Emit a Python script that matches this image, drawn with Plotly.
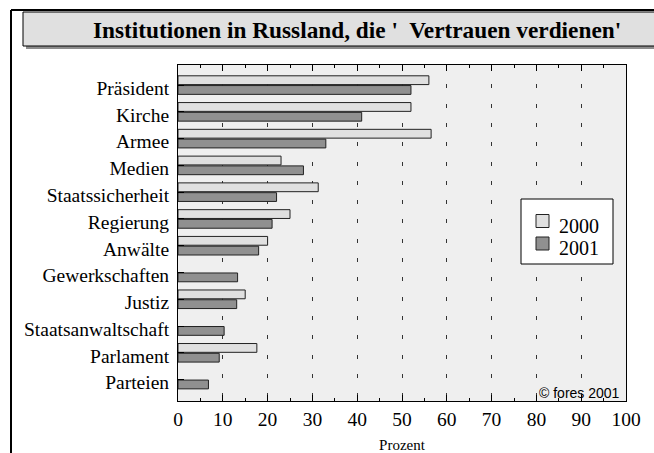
import plotly.graph_objects as go

categories = ["Präsident", "Kirche", "Armee", "Medien", "Staatssicherheit", "Regierung",
              "Anwälte", "Gewerkschaften", "Justiz", "Staatsanwaltschaft", "Parlament", "Parteien"]
values_2000 = [56, 52, 56.5, 23, 31.3, 25, 20, None, 15, None, 17.6, None]
values_2001 = [52, 41, 33, 28, 22, 21, 18, 13.3, 13.1, 10.3, 9.2, 6.8]
x_ticks = [0, 10, 20, 30, 40, 50, 60, 70, 80, 90, 100]
series_names = ["2000", "2001"]
series_colors = ["#e0e0e0", "#909090"]

positions = list(range(len(categories)))

W, H = 654, 453
L, R, T, B = 178, 626, 65, 401


def px_x(p):
    return (p - L) / (R - L)


def px_y(p):
    return (B - p) / (B - T)


SERIF = "Liberation Serif, Times New Roman, serif"

fig = go.Figure()
for name, vals, col in zip(series_names, [values_2000, values_2001], series_colors):
    fig.add_trace(go.Bar(y=positions, x=vals, orientation="h", name=name, showlegend=False,
                         marker=dict(color=col, line=dict(color="#222222", width=1))))

shapes = [
    # title box shadow
    dict(type="rect", xref="paper", yref="paper", x0=px_x(26), x1=px_x(670), y0=px_y(49), y1=px_y(15),
         fillcolor="#8c8c8c", line=dict(width=0), layer="above"),
    # title box
    dict(type="rect", xref="paper", yref="paper", x0=px_x(23), x1=px_x(668), y0=px_y(46), y1=px_y(12),
         fillcolor="#e0e0e0", line=dict(color="#000000", width=1), layer="above"),
    # outer frame lines
    dict(type="line", xref="paper", yref="paper", x0=px_x(11), x1=px_x(11), y0=px_y(10), y1=px_y(470),
         line=dict(color="#000000", width=2), layer="above"),
    dict(type="line", xref="paper", yref="paper", x0=px_x(11), x1=px_x(670), y0=px_y(10), y1=px_y(10),
         line=dict(color="#000000", width=2), layer="above"),
    # legend box
    dict(type="rect", xref="paper", yref="paper", x0=px_x(521), x1=px_x(613), y0=px_y(264), y1=px_y(199),
         fillcolor="#ffffff", line=dict(color="#000000", width=1), layer="above"),
]

annotations = [
    dict(text="<b>Institutionen in Russland, die '  Vertrauen verdienen'</b>", xref="paper", yref="paper",
         x=px_x(91), y=px_y(29.5), xanchor="left", yanchor="middle", showarrow=False,
         font=dict(family=SERIF, size=23.3, color="#000000")),
    dict(text="© fores 2001", xref="paper", yref="paper", x=px_x(622), y=px_y(393),
         xanchor="right", yanchor="middle", showarrow=False,
         font=dict(family="Liberation Sans, Arial, sans-serif", size=14, color="#000000")),
]

# legend entries (swatch + label)
for k, (name, col) in enumerate(zip(series_names, series_colors)):
    top = 214.5 + 22.5 * k
    shapes.append(dict(type="rect", xref="paper", yref="paper", x0=px_x(536), x1=px_x(549),
                       y0=px_y(top + 13), y1=px_y(top), fillcolor=col,
                       line=dict(color="#222222", width=1), layer="above"))
    annotations.append(dict(text=name, xref="paper", yref="paper", x=px_x(557), y=px_y(226 + 22 * k),
                            xanchor="left", yanchor="middle", showarrow=False,
                            font=dict(family=SERIF, size=20, color="#000000")))

fig.update_layout(
    width=W, height=H, autosize=False,
    margin=dict(l=L, r=W - R, t=T, b=H - B, pad=0, autoexpand=False),
    paper_bgcolor="#ffffff", plot_bgcolor="#efefef",
    barmode="group", bargap=0.27, bargroupgap=0.1,
    font=dict(family=SERIF, size=19.5, color="#000000"),
    shapes=shapes, annotations=annotations,
    showlegend=False,
    xaxis=dict(range=[0, 100], tickmode="array", tickvals=x_ticks, ticktext=[str(v) for v in x_ticks],
               ticks="inside", ticklen=6, tickcolor="#000000", tickwidth=1, automargin=False,
               showline=True, linecolor="#000000", linewidth=1, mirror="ticks",
               showgrid=True, gridcolor="#333333", gridwidth=1, griddash="4px,15.3px",
               zeroline=False, ticklabelstandoff=1,
               minor=dict(tickvals=[5, 15, 25, 35, 45, 55, 65, 75, 85, 95], ticks="inside", ticklen=3,
                          tickcolor="#000000", showgrid=False),
               tickfont=dict(family=SERIF, size=19.5),
               title=dict(text="Prozent", font=dict(family=SERIF, size=15), standoff=17)),
    yaxis=dict(range=[11.8, -0.75], tickmode="array", tickvals=positions, ticktext=categories,
               ticks="inside", ticklen=6, tickcolor="#000000", tickwidth=1, automargin=False,
               showline=True, linecolor="#000000", linewidth=1, mirror=True,
               showgrid=False, zeroline=False, ticklabelshift=-3, ticklabelstandoff=4,
               tickfont=dict(family=SERIF, size=19.5)),
)

fig.write_html("out.html", config={"displayModeBar": False},
               post_script="document.body.style.margin='0';document.body.style.overflow='hidden';")
